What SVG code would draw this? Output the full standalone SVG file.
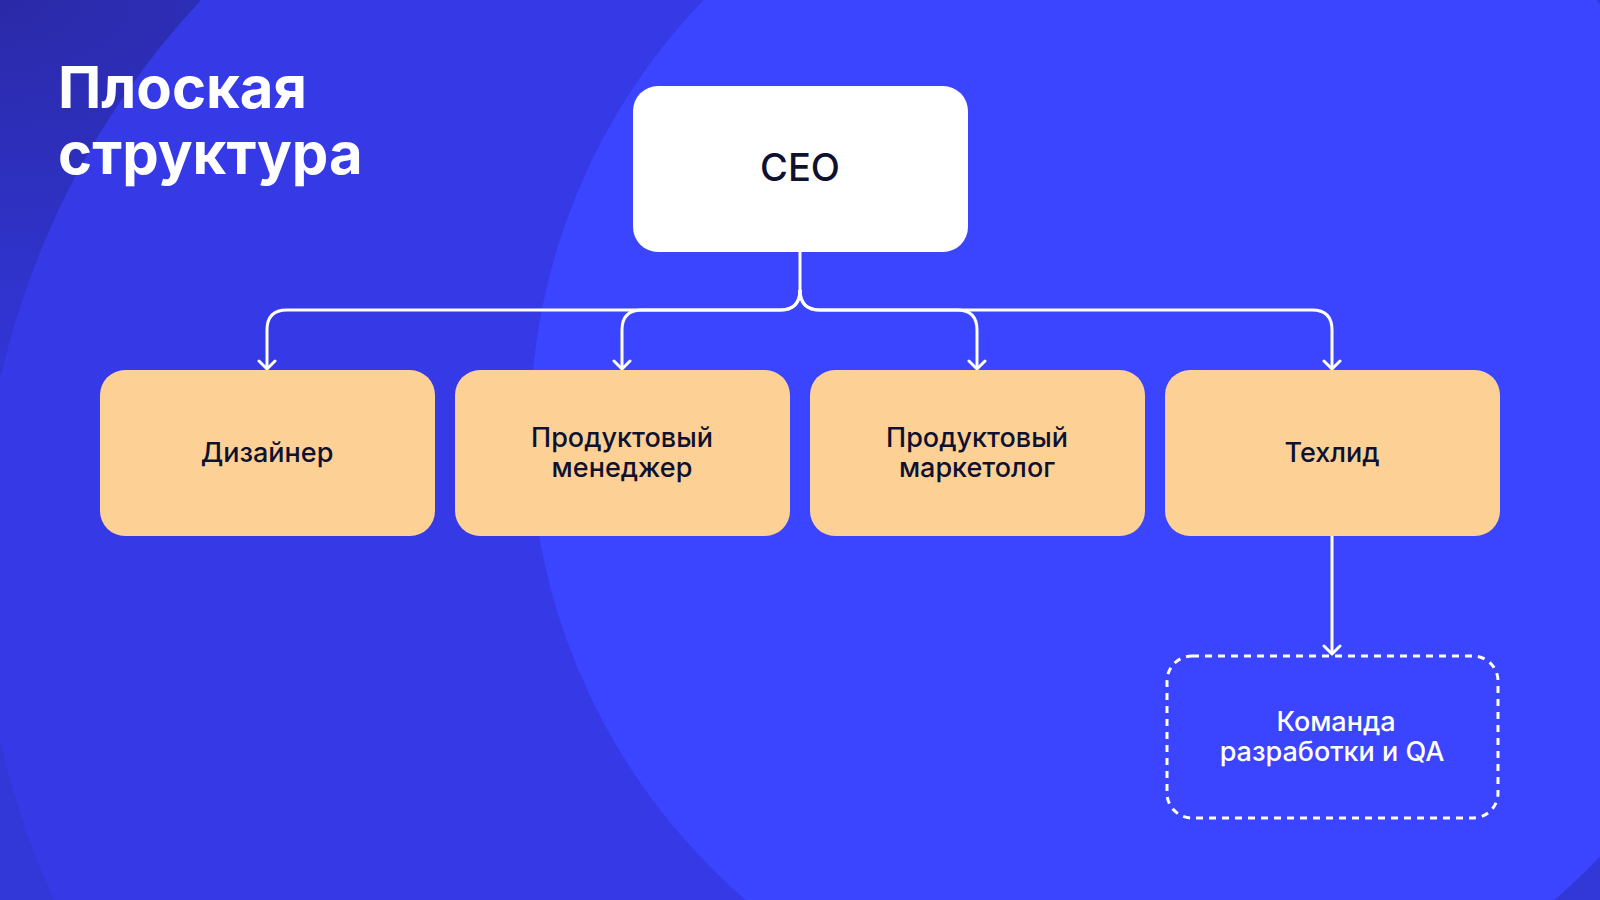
<svg xmlns="http://www.w3.org/2000/svg" width="1600" height="900" viewBox="0 0 1600 900">
<defs>
<radialGradient id="bg" cx="0" cy="0" r="1.2"><stop offset="0" stop-color="#2a2aa8"/><stop offset="0.35" stop-color="#3236d8"/><stop offset="1" stop-color="#3238d8"/></radialGradient>
<marker id="ah" viewBox="0 0 20 20" refX="17" refY="10" markerWidth="20" markerHeight="20" markerUnits="userSpaceOnUse" orient="auto"><path d="M9 2 L17 10 L9 18" fill="none" stroke="#fff" stroke-width="3" stroke-linecap="round" stroke-linejoin="round"/></marker>
<style>
.t{font-family:"Inter","Noto Sans",sans-serif;fill:#0e1230;font-weight:500;text-anchor:middle}
.box{fill:#fdd196}
.c{fill:none;stroke:#fff;stroke-width:3;marker-end:url(#ah)}
</style>
</defs>
<rect width="1600" height="900" fill="url(#bg)"/>
<circle cx="800" cy="560" r="820" fill="#3539e6"/>
<circle cx="1150" cy="430" r="620" fill="#3b44ff"/>
<g id="title" font-family="Inter,'Noto Sans',sans-serif" font-weight="700" font-size="58" fill="#fff">
<text x="58" y="108">Плоская</text><text x="58" y="174">структура</text></g>
<g id="connectors">
<path class="c" d="M800 252 V290 Q800 310 780 310 H287 Q267 310 267 330 V369"/>
<path class="c" d="M800 290 Q800 310 780 310 H642 Q622 310 622 330 V369"/>
<path class="c" d="M800 290 Q800 310 820 310 H957 Q977 310 977 330 V369"/>
<path class="c" d="M800 290 Q800 310 820 310 H1312 Q1332 310 1332 330 V369"/>
<path class="c" d="M1332 536 V654"/>
</g>
<g id="ceo"><rect x="633" y="86" width="335" height="166" rx="25" fill="#fff"/><text class="t" x="800" y="181" font-size="38">CEO</text></g>
<g id="designer"><rect class="box" x="100" y="370" width="335" height="166" rx="25"/><text class="t" x="267" y="462" font-size="27">Дизайнер</text></g>
<g id="pm"><rect class="box" x="455" y="370" width="335" height="166" rx="25"/><text class="t" x="622" y="447" font-size="27">Продуктовый</text><text class="t" x="622" y="477" font-size="27">менеджер</text></g>
<g id="marketer"><rect class="box" x="810" y="370" width="335" height="166" rx="25"/><text class="t" x="977" y="447" font-size="27">Продуктовый</text><text class="t" x="977" y="477" font-size="27">маркетолог</text></g>
<g id="techlead"><rect class="box" x="1165" y="370" width="335" height="166" rx="25"/><text class="t" x="1332" y="462" font-size="27">Техлид</text></g>
<g id="team"><rect x="1167" y="656" width="331" height="162" rx="25" fill="none" stroke="#fff" stroke-width="3" stroke-dasharray="7 6"/><text class="t" x="1336" y="731" font-size="27" style="fill:#fff">Команда</text><text class="t" x="1332" y="761" font-size="27" style="fill:#fff">разработки и QA</text></g>
</svg>
